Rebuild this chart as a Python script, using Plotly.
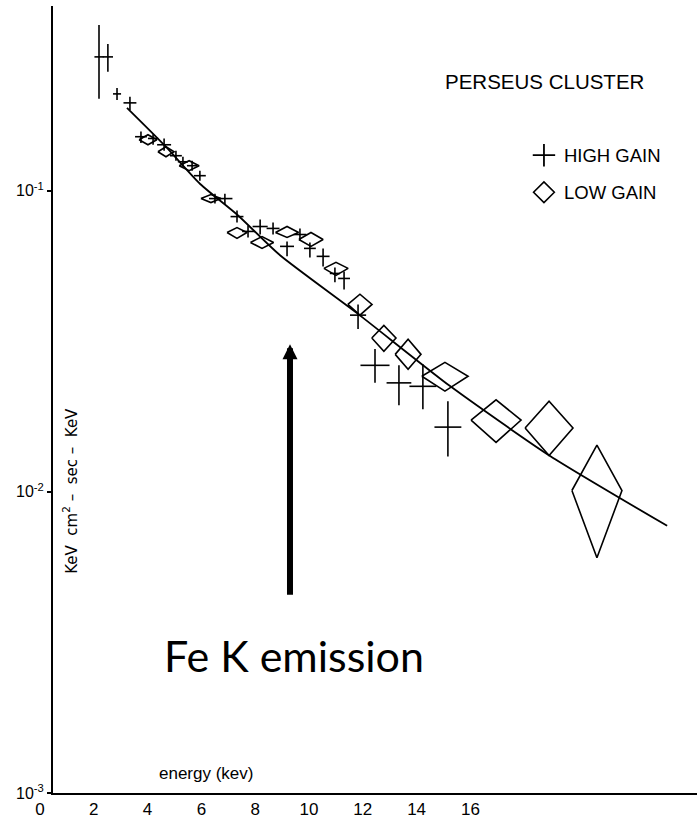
import plotly.graph_objects as go

# ---------------- data ----------------
# HIGH GAIN points (crosses): energy (keV), half-width, flux, upper/lower flux
hg_energy = [1.71, 2.04, 2.38, 2.86, 3.27, 3.72, 4.13, 4.57, 4.83, 5.17, 5.46, 6.02, 6.39, 6.84,
             7.25, 7.70, 8.18, 8.70, 9.18, 9.55, 10.04, 10.48, 10.82, 11.34, 11.97, 12.86, 13.75, 14.68]
hg_energy_err = [0.17, 0.19, 0.15, 0.24, 0.22, 0.19, 0.26, 0.22, 0.19, 0.19, 0.22, 0.22, 0.28, 0.24,
                 0.22, 0.28, 0.24, 0.26, 0.24, 0.22, 0.24, 0.19, 0.22, 0.30, 0.54, 0.46, 0.50, 0.50]
hg_flux = [0.278, 0.278, 0.2095, 0.1956, 0.151, 0.149, 0.142, 0.1306, 0.1247, 0.121, 0.1121, 0.0941,
           0.0941, 0.0820, 0.0732, 0.0760, 0.0749, 0.0653, 0.0715, 0.0643, 0.0605, 0.0531, 0.0511,
           0.0386, 0.0263, 0.0230, 0.0224, 0.0164]
hg_flux_hi = [0.355, 0.307, 0.219, 0.205, 0.157, 0.154, 0.149, 0.1357, 0.1296, 0.1257, 0.1165, 0.0977,
              0.0977, 0.0859, 0.0766, 0.0802, 0.0783, 0.0678, 0.0749, 0.0673, 0.0643, 0.0556, 0.0539,
              0.0419, 0.0298, 0.0263, 0.0265, 0.0200]
hg_flux_lo = [0.202, 0.248, 0.200, 0.1854, 0.144, 0.142, 0.1357, 0.1257, 0.1201, 0.1165, 0.1079, 0.0906,
              0.0899, 0.0783, 0.0699, 0.0715, 0.0715, 0.0605, 0.0683, 0.0600, 0.0560, 0.0496, 0.0470,
              0.0347, 0.0230, 0.0194, 0.0188, 0.0131]

# LOW GAIN points (diamonds)
lg_energy = [3.53, 4.20, 5.06, 5.87, 6.84, 7.77, 8.70, 9.59, 10.52, 11.41, 12.30, 13.20, 14.57,
             16.47, 18.44, 20.22]
lg_energy_err = [0.33, 0.30, 0.37, 0.37, 0.37, 0.43, 0.43, 0.45, 0.45, 0.45, 0.45, 0.48, 0.86,
                 0.93, 0.89, 0.93]
lg_flux = [0.1475, 0.1346, 0.121, 0.0941, 0.0726, 0.0673, 0.0726, 0.0688, 0.0552, 0.0419, 0.0324,
           0.0286, 0.0242, 0.0173, 0.0163, 0.0101]
lg_flux_hi = [0.1533, 0.1399, 0.1257, 0.0970, 0.0754, 0.0704, 0.0760, 0.0726, 0.0578, 0.0453, 0.0357,
              0.0321, 0.0269, 0.0202, 0.0200, 0.0143]
lg_flux_lo = [0.142, 0.1296, 0.1165, 0.0913, 0.0694, 0.0643, 0.0699, 0.0653, 0.0523, 0.0386, 0.0293,
              0.0255, 0.0216, 0.0146, 0.0132, 0.00604]

# model curve
fit_energy = [2.75, 4.16, 5.46, 6.84, 8.44, 11.30, 14.76, 18.48, 22.83]
fit_flux = [0.1884, 0.141, 0.1054, 0.0833, 0.0610, 0.0392, 0.02244, 0.01315, 0.00771]

# axis ticks
x_ticks = [0, 2, 4, 6, 8, 10, 12, 14, 16]
y_ticks = [0.001, 0.01, 0.1]
y_ticktext = ["10<sup>-3</sup>", "10<sup>-2</sup>", "10<sup>-1</sup>"]

# Fe K arrow (energy, log10 flux at tip)
arrow_energy = 8.81
arrow_logflux = -1.51

# ---------------- figure ----------------
FONT = "Liberation Sans, Arial, sans-serif"
NB = "\u00a0"
fig = go.Figure()

# model line
fig.add_trace(go.Scatter(x=fit_energy, y=fit_flux, mode="lines",
                         line=dict(color="black", width=1.8, shape="spline", smoothing=0.6),
                         showlegend=False, hoverinfo="skip"))

# high gain crosses as error bars
fig.add_trace(go.Scatter(
    x=hg_energy, y=hg_flux, mode="markers",
    marker=dict(size=1, color="black"),
    error_x=dict(type="data", array=hg_energy_err, symmetric=True, width=0, thickness=1.6, color="black"),
    error_y=dict(type="data",
                 array=[h - f for h, f in zip(hg_flux_hi, hg_flux)],
                 arrayminus=[f - l for f, l in zip(hg_flux, hg_flux_lo)],
                 symmetric=False, width=0, thickness=1.6, color="black"),
    showlegend=False))

# low gain diamonds as closed polygons
dx, dy = [], []
for e, de, f, fh, fl in zip(lg_energy, lg_energy_err, lg_flux, lg_flux_hi, lg_flux_lo):
    dx += [e - de, e, e + de, e, e - de, None]
    dy += [f, fh, f, fl, f, None]
fig.add_trace(go.Scatter(x=dx, y=dy, mode="lines", line=dict(color="black", width=1.6),
                         showlegend=False, hoverinfo="skip"))

# legend entries
fig.add_trace(go.Scatter(x=[None], y=[None], mode="markers", name="HIGH GAIN", legendgroup="a",
                         marker=dict(symbol="cross-thin-open", size=18, color="black",
                                     line=dict(color="black", width=1.8))))
fig.add_trace(go.Scatter(x=[None], y=[None], mode="markers", name="LOW GAIN", legendgroup="b",
                         marker=dict(symbol="diamond-open", size=18, color="black",
                                     line=dict(color="black", width=1.6))))

L, R, T, B = 53, 0, 6, 24
W, H = 697, 819
pw, ph = W - L - R, H - T - B


def px(xp):
    return (xp - L) / pw


def py(yp):
    return (H - B - yp) / ph


ytitle = "KeV" + NB * 2 + "cm<sup>2</sup>" + NB + "\u2013" + NB * 2 + "sec" + NB + "\u2013" + NB * 2 + "KeV"

fig.update_layout(
    width=W, height=H,
    margin=dict(l=L, r=R, t=T, b=B),
    paper_bgcolor="white", plot_bgcolor="white",
    font=dict(family=FONT, color="black"),
    showlegend=True,
    legend=dict(x=0.7313, y=py(137), xanchor="left", yanchor="top",
                font=dict(size=18.5, family=FONT), bgcolor="rgba(0,0,0,0)",
                traceorder="grouped", tracegroupgap=10, itemwidth=30),
    xaxis=dict(range=[0, 23.94], tickmode="array", tickvals=x_ticks,
               showgrid=False, zeroline=False, showline=True, linecolor="black", linewidth=2,
               ticks="", tickfont=dict(size=17, family=FONT), ticklabelshift=-13),
    yaxis=dict(type="log", range=[-3, -0.387], tickmode="array", tickvals=y_ticks, ticktext=y_ticktext,
               showgrid=False, zeroline=False, showline=True, linecolor="black", linewidth=2,
               ticks="outside", ticklen=4, tickwidth=1.5, tickcolor="black",
               tickfont=dict(size=16, family=FONT)),
    annotations=[
        dict(text="PERSEUS CLUSTER", x=px(544), y=py(81.5), xref="paper", yref="paper",
             xanchor="center", yanchor="middle",
             showarrow=False, font=dict(size=20.5, family=FONT)),
        dict(text="energy (kev)", x=px(206), y=py(775), xref="paper", yref="paper",
             xanchor="center", yanchor="middle",
             showarrow=False, font=dict(size=17, family=FONT)),
        dict(text=ytitle, x=px(70), y=py(492), xref="paper", yref="paper",
             xanchor="center", yanchor="middle",
             showarrow=False, textangle=-90, font=dict(size=15, family="DejaVu Sans, sans-serif")),
        dict(text="", x=arrow_energy, y=arrow_logflux, xref="x", yref="y",
             showarrow=True, ax=0, ay=252, axref="pixel", ayref="pixel",
             arrowhead=2, arrowsize=0.5, arrowwidth=6, arrowcolor="black", standoff=0),
        dict(text="Fe K emission", x=px(294), y=py(657), xref="paper", yref="paper",
             xanchor="center", yanchor="middle",
             showarrow=False, font=dict(size=43, family="Lato, Open Sans, sans-serif")),
    ],
)

fig.write_html("out.html")
